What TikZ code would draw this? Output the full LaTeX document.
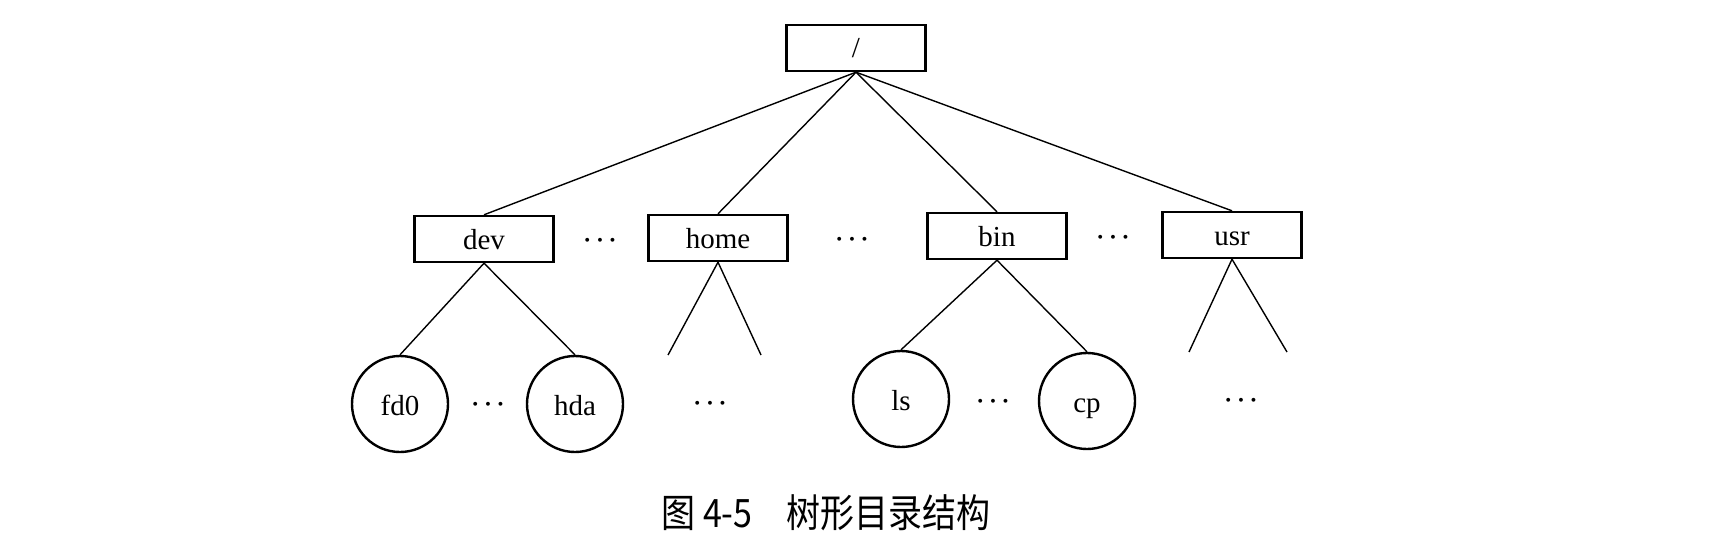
\documentclass[tikz,border=0pt]{standalone}
\usepackage{fontspec}
\setmainfont{Liberation Serif}
\newfontfamily\cjk{Noto Sans CJK SC}
\usepackage{tikz}
\usetikzlibrary{positioning}

\begin{document}
\begin{tikzpicture}[x=1pt, y=-1pt,
    dirbox/.style={draw, line width=2.4pt, minimum width=139pt, minimum height=46pt, inner sep=0pt, text height=24pt, text depth=4pt, font=\fontsize{29}{32}\selectfont},
    filenode/.style={draw, circle, line width=2.4pt, minimum size=96pt, inner sep=0pt, text height=24pt, text depth=2pt, font=\fontsize{29}{32}\selectfont},
    etc/.style={inner sep=0pt, font=\fontsize{33}{36}\selectfont\boldmath},
    branch/.style={line width=1.4pt}]
    \useasboundingbox (0,0) rectangle (1720,551);
    % 1. Thư mục gốc và các thư mục con
    \node[dirbox] (root) at (856,48) {/};
    \node[dirbox] (dev) at (484,239) {dev};
    \node[dirbox] (home) at (718,238) {home};
    \node[dirbox] (bin) at (997,236) {bin};
    \node[dirbox] (usr) at (1232,235) {usr};
    \node[etc] (e1) at (600,241) {$\cdots$};
    \node[etc] (e2) at (852,240) {$\cdots$};
    \node[etc] (e3) at (1113,238) {$\cdots$};
    \foreach \d in {dev, home, bin, usr}
        \draw[branch] (root.south) -- (\d.north);

    % 2. Các tệp
    \node[filenode] (fd0) at (400,404) {fd0};
    \node[filenode] (hda) at (575,404) {hda};
    \node[filenode] (ls) at (901,399) {ls};
    \node[filenode] (cp) at (1087,401) {cp};
    \node[etc] (e4) at (488,405) {$\cdots$};
    \node[etc] (e5) at (710,404) {$\cdots$};
    \node[etc] (e6) at (993,402) {$\cdots$};
    \node[etc] (e7) at (1241,401) {$\cdots$};
    \coordinate (h1) at (668,355);
    \coordinate (h2) at (761,355);
    \coordinate (u1) at (1189,352);
    \coordinate (u2) at (1287,352);
    \draw[branch] (fd0.north) -- (dev.south) -- (hda.north);
    \draw[branch] (h1) -- (home.south) -- (h2);
    \draw[branch] (ls.north) -- (bin.south) -- (cp.north);
    \draw[branch] (u1) -- (usr.south) -- (u2);

    % 3. Chú thích
    \node[font=\cjk\fontsize{34}{38}\selectfont] (cap) at (826,513) {\scalebox{1}[1.15]{图 4-5\quad 树形目录结构}};
\end{tikzpicture}
\end{document}
